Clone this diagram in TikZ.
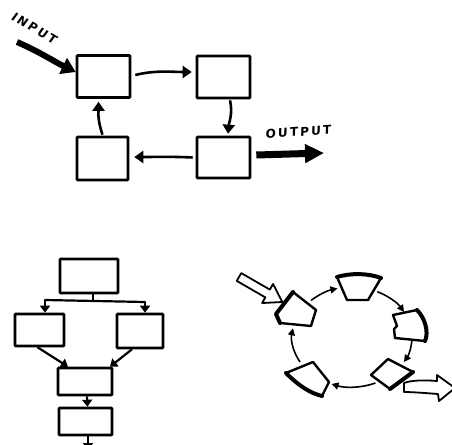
\documentclass[tikz,border=0pt]{standalone}
\usepackage{fontspec}
\newfontfamily\hand[LetterSpace=18,FakeSlant=0.1]{DejaVu Sans}
\usetikzlibrary{arrows.meta}
\begin{document}
\begin{tikzpicture}[x=1pt,y=-1pt,
  box/.style={draw,line width=2.6pt,inner sep=0pt,rounded corners=0.8pt},
  flow/.style={line width=2.6pt,-{Triangle[length=9pt,width=12pt]}},
  bigin/.style={line width=6pt,-{Triangle[length=14pt,width=17pt]}},
  bigout/.style={line width=7pt,-{Triangle[length=19pt,width=18pt]}},
  fc/.style={line width=2.2pt,-{Triangle[length=7pt,width=10pt]}},
  fl/.style={line width=2.2pt},
  ring/.style={line width=1.6pt,-{Triangle[length=7pt,width=7pt]}},
  seg/.style={line width=2.4pt,line join=round},
  rim/.style={line width=4pt,line cap=round,line join=round},
  hollow/.style={draw,line width=1.8pt,fill=white,line join=round},
  lbl/.style={font=\hand\bfseries\fontsize{12}{13}\selectfont,inner sep=1pt}]
\clip (0,0) rectangle (452,444);

% ---------- top loop ----------
\node[box,minimum width=53pt,minimum height=42pt] (tl) at (103.5,76.5) {};
\node[box,minimum width=53pt,minimum height=42pt] (tr) at (223.5,77) {};
\node[box,minimum width=51pt,minimum height=43pt] (bl) at (102.5,158.5) {};
\node[box,minimum width=53pt,minimum height=41pt] (br) at (223.5,157.5) {};

\node[lbl,rotate=-30] (inlbl) at (34,28) {INPUT};
\node[lbl,rotate=4] (outlbl) at (298,132) {OUTPUT};
\coordinate (ins) at (17,42);
\coordinate (oute) at (324,153);

\draw[bigin] (ins) .. controls (40,52) and (55,62) .. ([yshift=4.5pt]tl.west);
\draw[bigout] ([xshift=5pt,yshift=2.5pt]br.east) -- (oute);

\draw[flow] ([xshift=4pt,yshift=1.5pt]tl.east) .. controls +(20,-5) and +(-20,0) .. ([xshift=-4pt,yshift=5pt]tr.west);
\draw[flow] ([xshift=6.5pt,yshift=-1pt]tr.south) .. controls +(3,14) and +(1,-12) .. ([xshift=4.5pt,yshift=2pt]br.north);
\draw[flow] ([xshift=-3pt]br.west) .. controls +(-20,-1) and +(20,0) .. ([xshift=5pt,yshift=1.5pt]bl.east);
\draw[flow] ([yshift=1pt]bl.north) .. controls +(-5,-15) and +(0,12) .. ([xshift=-5pt,yshift=-3pt]tl.south);

% ---------- flow chart ----------
\node[box,minimum width=58pt,minimum height=34pt] (f1) at (89,276) {};
\node[box,minimum width=49pt,minimum height=32pt] (f2) at (39.5,330) {};
\node[box,minimum width=46pt,minimum height=34pt] (f3) at (140,331) {};
\node[box,minimum width=54pt,minimum height=27pt] (f4) at (85,381.5) {};
\node[box,minimum width=53pt,minimum height=27pt] (f5) at (85.5,421.5) {};
\coordinate (sp) at (93,301);
\coordinate (spl) at (45,300);
\coordinate (spr) at (145,302);
\coordinate (fx) at (88,450);
\draw[fl] ([xshift=4pt]f1.south) -- ([xshift=4pt]f1.south |- sp);
\draw[fl,line cap=round] (spl) -- (spr);
\draw[fc] (spl) -- (spl |- f2.north);
\draw[fc] (spr) -- (spr |- f3.north);
\draw[fc] ([xshift=-2pt]f2.south) -- ([xshift=-17pt]f4.north);
\draw[fc] ([xshift=-8pt]f3.south) -- ([xshift=25pt]f4.north);
\draw[fc] ([xshift=2pt]f4.south) -- ([xshift=2pt]f5.north);
\draw[fc] ([xshift=2.5pt]f5.south) -- (fx);

% ---------- ring ----------
\coordinate (rc) at (352,337);
\draw[ring] ([shift={(-133:60 and 50)}]rc) arc[start angle=-133, end angle=-104, x radius=60, y radius=50];
\draw[ring] ([shift={(-65:60 and 50)}]rc) arc[start angle=-65, end angle=-30, x radius=60, y radius=50];
\draw[ring] ([shift={(3:60 and 50)}]rc) arc[start angle=3, end angle=30, x radius=60, y radius=50];
\draw[ring] ([shift={(67:60 and 50)}]rc) arc[start angle=67, end angle=110, x radius=60, y radius=50];
\draw[ring] ([shift={(150:60 and 50)}]rc) arc[start angle=150, end angle=190, x radius=60, y radius=50];

% elements
\draw[seg] (337,277) -- (347,300) -- (368,300) -- (381,278);
\draw[rim] (337,277) .. controls (350,273) and (368,273) .. (381,278);
\draw[seg] (417,310) -- (393,315) -- (397,326) -- (394,329) -- (395,338) -- (425,341);
\draw[rim] (417,310) .. controls (425,318) and (429,332) .. (425,341);
\draw[seg] (413,372) -- (388,359) -- (371,375) -- (390,389);
\draw[rim] (390,389) -- (413,372);
\draw[seg] (286,373) -- (313,362) -- (329,382) -- (322,396);
\draw[rim] (286,373) .. controls (299,386) and (310,393) .. (322,396);
\draw[seg] (293,292) -- (316,310) -- (311,326) -- (280,323);
\draw[rim] (280,323) -- (276,314) -- (293,292);

% hollow arrows
\begin{scope}[shift={(239,277)},rotate=-30]
\draw[hollow] (0,-4.5) -- (33,-4.5) -- (33,-11) -- (50,0) -- (33,11) -- (33,4.5) -- (0,4.5) -- cycle;
\end{scope}
\draw[hollow] (404,383) .. controls (412,380) and (425,380) .. (437,381) -- (437,375) -- (455,388) -- (439,401) -- (438,394)
  .. controls (425,393) and (412,392) .. (404,392) -- cycle;
\end{tikzpicture}
\end{document}
